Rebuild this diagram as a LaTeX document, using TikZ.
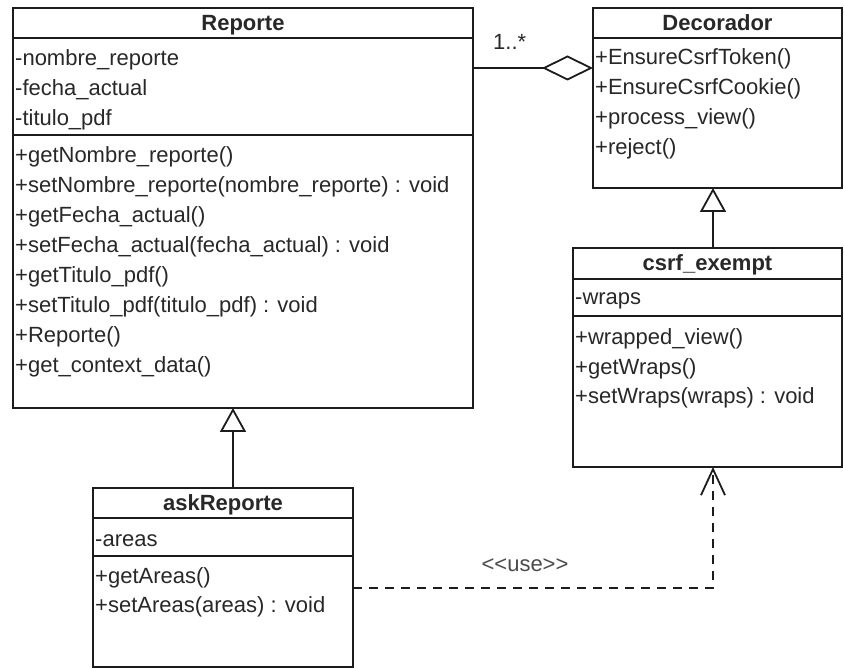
\documentclass[tikz,border=0pt]{standalone}
\usepackage{fontspec}
\setmainfont{Liberation Sans}
\usetikzlibrary{arrows.meta}
\definecolor{ink}{RGB}{28,28,28}
\definecolor{txt}{RGB}{40,40,40}
\definecolor{lbl}{RGB}{75,75,75}

\tikzset{
  classbox/.style={draw=ink, line width=1.8pt, rectangle, inner sep=0pt, outer sep=0pt,
                   anchor=north west, fill=white},
  sepline/.style={draw=ink, line width=1.8pt},
  classname/.style={font=\fontsize{22}{26}\selectfont\bfseries, text=txt, inner sep=0pt, anchor=base},
  member/.style={font=\fontsize{22}{26}\selectfont, text=txt, inner sep=0pt, anchor=base west},
  generalize/.style={draw=ink, line width=1.8pt, -{Triangle[open,length=24pt,width=26pt]}},
  aggregate/.style={draw=ink, line width=1.8pt, -{Diamond[open,length=51pt,width=25pt]}},
  dependency/.style={draw=ink, line width=1.8pt, dash pattern=on 9pt off 7pt,
                     -{Straight Barb[length=26pt,width=24pt]}},
}

\begin{document}
\begin{tikzpicture}[x=1pt,y=-1pt]
\useasboundingbox (0,0) rectangle (844,668);

% ---------- Reporte ----------
\node[classbox, minimum width=460pt, minimum height=400pt] (rep) at (13,8) {};
\draw[sepline] ([yshift=-30pt]rep.north west) -- ([yshift=-30pt]rep.north east);
\draw[sepline] ([yshift=-127pt]rep.north west) -- ([yshift=-127pt]rep.north east);
\node[classname] (rep-name) at ([yshift=-23pt]rep.north) {Reporte};
\foreach \mem [count=\i] in {-nombre\_reporte, -fecha\_actual, -titulo\_pdf}
  \node[member] (rep-a\i) at ([shift={(2pt,{-58pt-(\i-1)*30pt})}]rep.north west) {\mem};
\foreach \mem [count=\i] in {+getNombre\_reporte(),
    +setNombre\_reporte(nombre\_reporte) : void,
    +getFecha\_actual(),
    +setFecha\_actual(fecha\_actual) : void,
    +getTitulo\_pdf(),
    +setTitulo\_pdf(titulo\_pdf) : void,
    +Reporte(),
    +get\_context\_data()}
  \node[member] (rep-m\i) at ([shift={(2pt,{-155pt-(\i-1)*30pt})}]rep.north west) {\mem};

% ---------- Decorador ----------
\node[classbox, minimum width=249pt, minimum height=180pt] (dec) at (593,8) {};
\draw[sepline] ([yshift=-30pt]dec.north west) -- ([yshift=-30pt]dec.north east);
\node[classname] (dec-name) at ([yshift=-23pt]dec.north) {Decorador};
\foreach \mem [count=\i] in {+EnsureCsrfToken(), +EnsureCsrfCookie(), +process\_view(), +reject()}
  \node[member] (dec-m\i) at ([shift={(2pt,{-57pt-(\i-1)*29.7pt})}]dec.north west) {\mem};

% ---------- csrf_exempt ----------
\node[classbox, minimum width=269pt, minimum height=219pt] (csrf) at (573,248) {};
\draw[sepline] ([yshift=-31pt]csrf.north west) -- ([yshift=-31pt]csrf.north east);
\draw[sepline] ([yshift=-68pt]csrf.north west) -- ([yshift=-68pt]csrf.north east);
\node[classname] (csrf-name) at ([yshift=-23pt]csrf.north) {csrf\_exempt};
\node[member] (csrf-a1) at ([shift={(2pt,-57pt)}]csrf.north west) {-wraps};
\foreach \mem [count=\i] in {+wrapped\_view(), +getWraps(), +setWraps(wraps) : void}
  \node[member] (csrf-m\i) at ([shift={(2pt,{-97pt-(\i-1)*29.5pt})}]csrf.north west) {\mem};

% ---------- askReporte ----------
\node[classbox, minimum width=260pt, minimum height=179pt] (ask) at (93,488) {};
\draw[sepline] ([yshift=-30pt]ask.north west) -- ([yshift=-30pt]ask.north east);
\draw[sepline] ([yshift=-68pt]ask.north west) -- ([yshift=-68pt]ask.north east);
\node[classname] (ask-name) at ([yshift=-22pt]ask.north) {askReporte};
\node[member] (ask-a1) at ([shift={(2pt,-58pt)}]ask.north west) {-areas};
\foreach \mem [count=\i] in {+getAreas(), +setAreas(areas) : void}
  \node[member] (ask-m\i) at ([shift={(2pt,{-95pt-(\i-1)*29pt})}]ask.north west) {\mem};

% ---------- relations ----------
\coordinate (gx1) at (233,0);
\coordinate (gx2) at (713,0);
\coordinate (ay) at (0,68);
\coordinate (dy) at (0,588);

\draw[generalize] (ask.north -| gx1) -- (rep.south -| gx1);
\draw[generalize] (csrf.north -| gx2) -- (dec.south -| gx2);
\draw[aggregate] (rep.east |- ay) -- (dec.west |- ay);
\draw[dependency] (ask.east |- dy) -| (csrf.south -| gx2);

\node[member] (mult) at (493,50) {1..*};
\node[member, text=lbl, anchor=base] (use) at (525,571) {<{}<use>{}>};
\end{tikzpicture}
\end{document}
